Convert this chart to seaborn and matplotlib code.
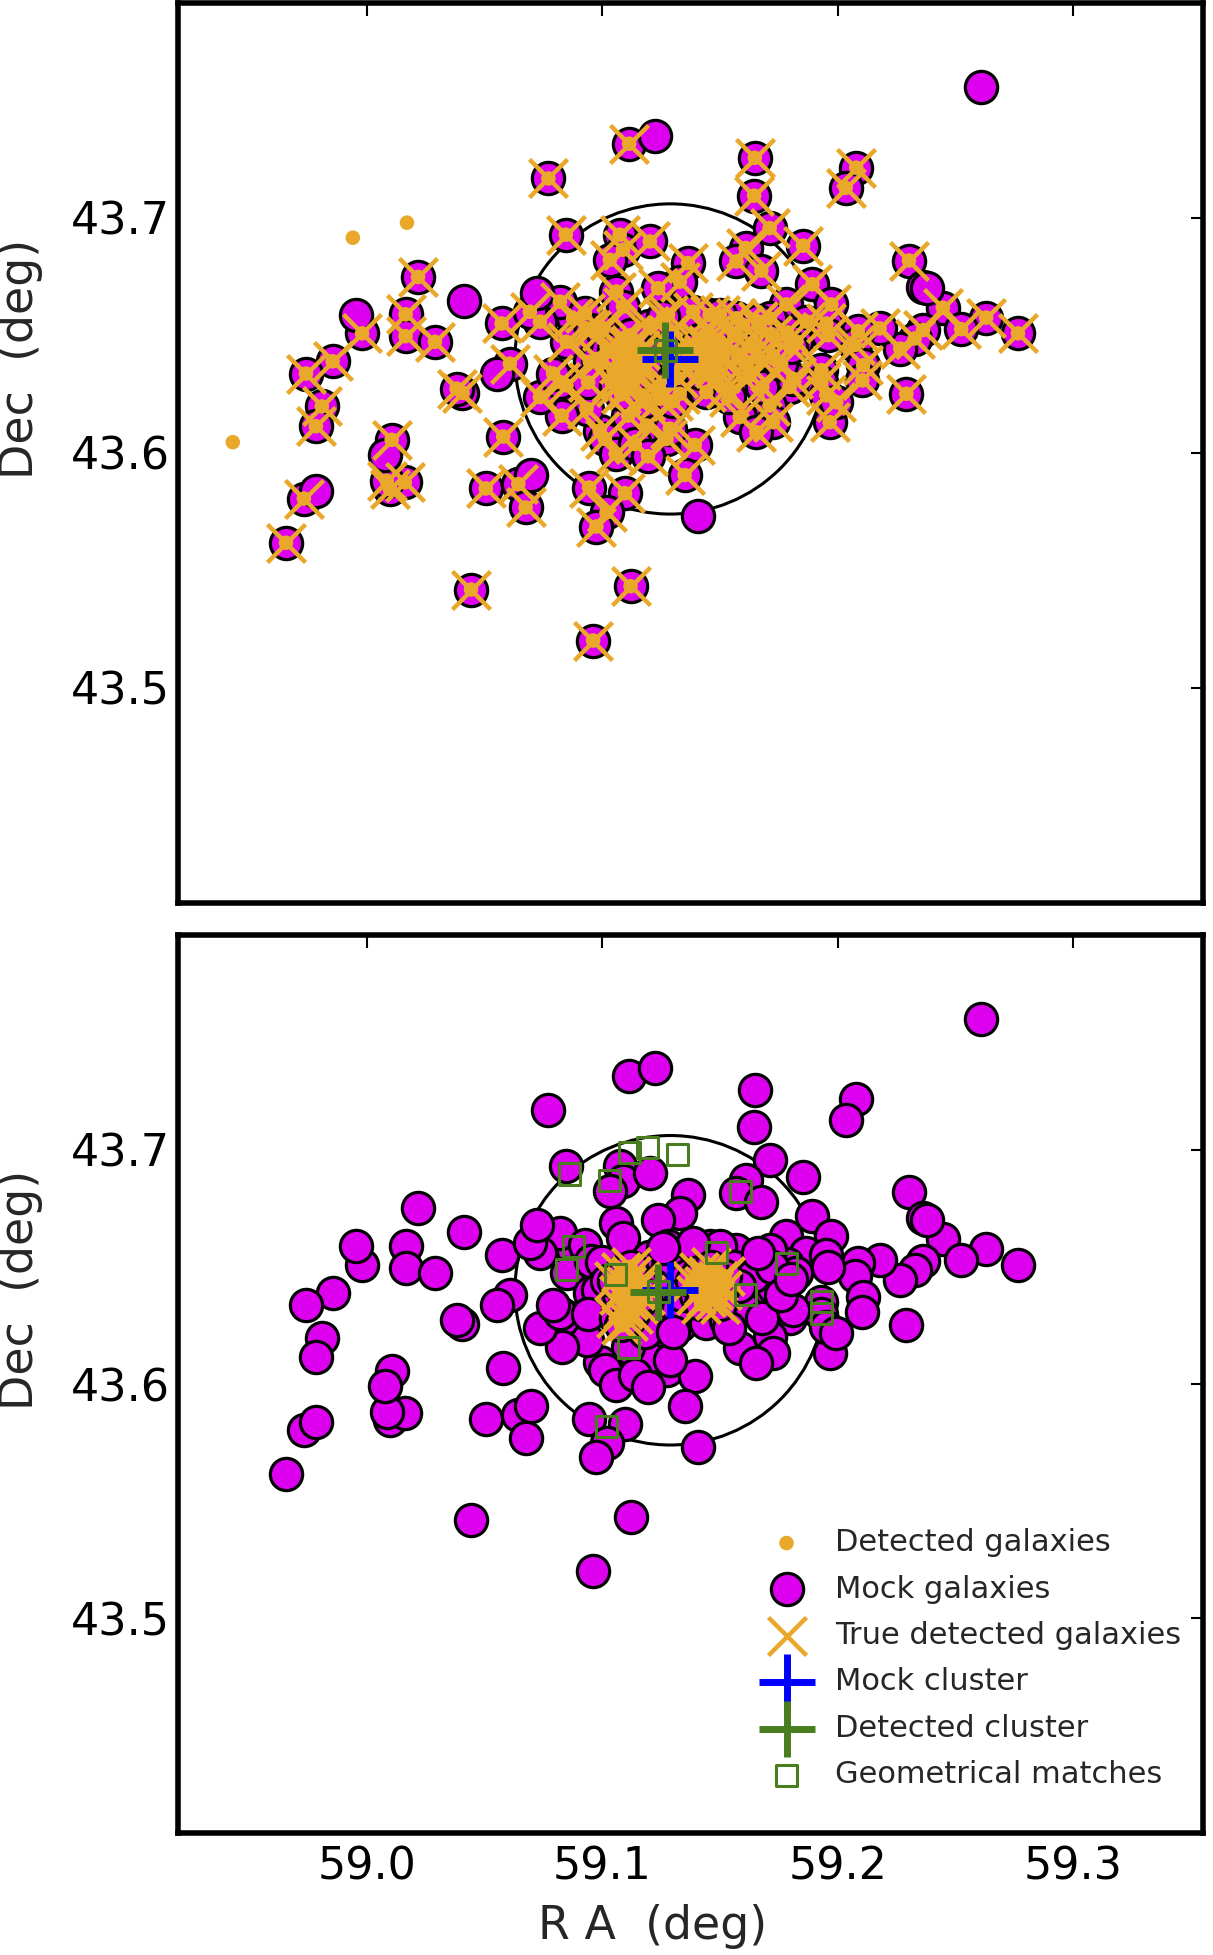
import matplotlib
matplotlib.use("Agg")
import matplotlib.pyplot as plt
from matplotlib.patches import Circle
import pandas as pd
import seaborn as sns

# DATA (deg)

# mock galaxies that have a detected counterpart in the top panel
mock_ra = [59.1114, 59.0771, 59.1648, 59.1645, 59.2079, 59.2034, 59.1711, 59.1853, 59.0845, 59.1074,
           59.1088, 59.1032, 59.1202, 59.1364, 59.1329, 59.1237, 59.1609, 59.1570, 59.1676, 59.2303,
           59.2447, 59.2631, 59.2766, 59.2525, 59.2363, 59.2327, 59.2266, 59.2178, 59.2086, 59.2072,
           59.2108, 59.2105, 59.2292, 59.1893, 59.1973, 59.1782, 59.1867, 59.1952, 59.1959, 59.1786,
           59.1825, 59.1711, 59.1598, 59.1662, 59.1612, 59.1570, 59.1456, 59.1279, 59.1931, 59.1931,
           59.1966, 59.1952, 59.1994, 59.1796, 59.1711, 59.1584, 59.1725, 59.1655, 59.1273, 59.1393,
           59.1350, 59.1329, 59.1442, 59.1527, 59.1626, 59.1725, 59.1810, 59.1669, 59.1499, 59.1386,
           59.1060, 59.1244, 59.1173, 59.1188, 59.1287, 59.1110, 59.0989, 59.0876, 59.0933, 59.0848,
           59.0947, 59.0848, 59.0933, 59.0827, 59.0735, 59.0820, 59.0406, 59.0381, 59.0579, 59.1011,
           59.1057, 59.1138, 59.1194, 59.0944, 59.1096, 59.1018, 59.0975, 59.0505, 59.0643, 59.0674,
           59.0442, 59.1120, 59.0961, 58.9808, 58.9783, 59.0105, 59.0098, 59.0161, 59.0084, 58.9732,
           58.9656, 59.0217, 58.9979, 59.0164, 59.0164, 59.0289, 58.9854, 58.9741, 59.0572, 59.0820,
           59.0735, 59.0692, 59.0926, 59.0954, 59.1088, 59.0607, 59.0791]
mock_dec = [43.7316, 43.7168, 43.7256, 43.7095, 43.7214, 43.7128, 43.6957, 43.6882, 43.6929, 43.6929,
            43.6865, 43.6822, 43.6900, 43.6808, 43.6729, 43.6701, 43.6872, 43.6815, 43.6776, 43.6819,
            43.6618, 43.6576, 43.6509, 43.6527, 43.6523, 43.6487, 43.6444, 43.6530, 43.6518, 43.6459,
            43.6373, 43.6309, 43.6252, 43.6718, 43.6632, 43.6632, 43.6559, 43.6551, 43.6501, 43.6513,
            43.6473, 43.6573, 43.6544, 43.6409, 43.6388, 43.6573, 43.6587, 43.6587, 43.6352, 43.6300,
            43.6131, 43.6245, 43.6217, 43.6281, 43.6202, 43.6153, 43.6131, 43.6088, 43.6060, 43.6034,
            43.5906, 43.6252, 43.6259, 43.6274, 43.6330, 43.6416, 43.6316, 43.6530, 43.6587, 43.6601,
            43.6687, 43.6231, 43.6245, 43.6117, 43.6103, 43.6159, 43.6095, 43.6573, 43.6530, 43.6473,
            43.6388, 43.6288, 43.6188, 43.6159, 43.6238, 43.6302, 43.6256, 43.6274, 43.6070, 43.6060,
            43.5996, 43.6038, 43.5986, 43.5853, 43.5829, 43.5747, 43.5687, 43.5849, 43.5868, 43.5768,
            43.5419, 43.5433, 43.5202, 43.6198, 43.6114, 43.6056, 43.5846, 43.5875, 43.5882, 43.5806,
            43.5618, 43.6749, 43.6509, 43.6590, 43.6497, 43.6473, 43.6390, 43.6338, 43.6551, 43.6644,
            43.6559, 43.6601, 43.6594, 43.6523, 43.6623, 43.6380, 43.6338]

# crowded mock galaxies round the core, detected in the top panel
inner_ra = [59.100, 59.104, 59.120, 59.124, 59.128, 59.132, 59.136, 59.156, 59.160, 59.164,
            59.168, 59.172, 59.098, 59.118, 59.130, 59.154, 59.158, 59.176, 59.122, 59.134,
            59.094, 59.102, 59.126, 59.166, 59.180]
inner_dec = [43.652, 43.630, 43.654, 43.628, 43.650, 43.632, 43.646, 43.650, 43.632, 43.646,
             43.628, 43.650, 43.640, 43.622, 43.622, 43.624, 43.642, 43.638, 43.642, 43.638,
             43.630, 43.644, 43.658, 43.656, 43.645]

# mock galaxies missed by the detection in the top panel
missed_ra = [59.2608, 59.1223, 59.0412, 59.1407, 58.9952, 59.2363, 59.2380, 59.0699, 59.0076, 58.9783,
             59.0551, 59.0721]
missed_dec = [43.7558, 43.7349, 43.6647, 43.5732, 43.6587, 43.6708, 43.6700, 43.5906, 43.5991, 43.5839,
              43.6338, 43.6679]

# cluster core (two lobes), detected in both panels
core_ra = [59.108, 59.112, 59.110, 59.114, 59.107, 59.111, 59.115, 59.109, 59.113, 59.106,
           59.111, 59.116, 59.105, 59.118, 59.112, 59.108,
           59.141, 59.145, 59.149, 59.143, 59.147, 59.151, 59.140, 59.144, 59.148, 59.152,
           59.138, 59.146, 59.150, 59.142]
core_dec = [43.648, 43.646, 43.642, 43.640, 43.638, 43.636, 43.634, 43.632, 43.630, 43.628,
            43.627, 43.644, 43.644, 43.638, 43.650, 43.625,
            43.648, 43.646, 43.644, 43.642, 43.640, 43.640, 43.638, 43.637, 43.636, 43.646,
            43.644, 43.650, 43.634, 43.634]

# detected galaxies without a mock counterpart (top panel)
extra_ra = [58.9940, 59.0170, 58.9430]
extra_dec = [43.6916, 43.6980, 43.6046]

# geometrical matches (bottom panel)
geo_ra = [59.0861, 59.1029, 59.1117, 59.1193, 59.1318, 59.1587, 59.0877, 59.0848, 59.1058, 59.1485,
          59.1781, 59.1610, 59.1932, 59.1932, 59.1111, 59.1019]
geo_dec = [43.6896, 43.6868, 43.6989, 43.7008, 43.6980, 43.6820, 43.6586, 43.6487, 43.6468, 43.6563,
           43.6515, 43.6383, 43.6352, 43.6299, 43.6155, 43.5817]

mock_cluster = [59.1289, 43.6400]
det_cluster_top = [59.1268, 43.6437]
det_cluster_bot = [59.1237, 43.6394]
cluster_radius = 0.066

# COLOURS
MAGENTA = "#dd00ee"
ORANGE = "#eaa82a"
GREEN = "#4a7d1e"
BLUE = "#0000ff"

sns.set_style("white")
plt.rcParams.update({
    "font.family": ["DejaVu Sans"],
    "xtick.direction": "in",
    "ytick.direction": "in",
    "xtick.top": True,
    "ytick.right": True,
    "xtick.major.size": 9,
    "ytick.major.size": 9,
    "xtick.major.width": 1.5,
    "ytick.major.width": 1.5,
    "xtick.major.pad": 9,
    "ytick.major.pad": 6,
    "xtick.color": "black",
    "ytick.color": "black",
    "axes.edgecolor": "black",
    "axes.linewidth": 4,
})

mock = pd.DataFrame({"ra": mock_ra + inner_ra + missed_ra + core_ra,
                     "dec": mock_dec + inner_dec + missed_dec + core_dec})
true_top = pd.DataFrame({"ra": mock_ra + inner_ra + core_ra,
                         "dec": mock_dec + inner_dec + core_dec})
det_top = pd.DataFrame({"ra": mock_ra + inner_ra + core_ra + extra_ra,
                        "dec": mock_dec + inner_dec + core_dec + extra_dec})
true_bot = pd.DataFrame({"ra": core_ra, "dec": core_dec})


def draw_panel(ax, det, true, geo, det_cluster):
    ax.add_patch(Circle(mock_cluster, cluster_radius, fill=False, ec="black", lw=2.2, zorder=1))
    sns.scatterplot(data=mock, x="ra", y="dec", ax=ax, marker="o", s=540, color=MAGENTA,
                    edgecolor="black", linewidth=2.3, zorder=2, label="Mock galaxies")
    sns.scatterplot(data=det, x="ra", y="dec", ax=ax, marker="o", s=110, color=ORANGE,
                    edgecolor="none", linewidth=0, zorder=3, label="Detected galaxies")
    sns.scatterplot(data=true, x="ra", y="dec", ax=ax, marker="x", s=750, color=ORANGE,
                    linewidth=3.2, zorder=4, label="True detected galaxies")
    sns.scatterplot(x=[mock_cluster[0]], y=[mock_cluster[1]], ax=ax, marker="+", s=1650,
                    color=BLUE, linewidth=5, zorder=5, label="Mock cluster")
    sns.scatterplot(x=[det_cluster[0]], y=[det_cluster[1]], ax=ax, marker="+", s=1650,
                    color=GREEN, linewidth=5, zorder=6, label="Detected cluster")
    sns.scatterplot(x=geo[0], y=geo[1], ax=ax, marker="s", s=230, color=GREEN,
                    facecolor="none", edgecolor=GREEN, linewidth=2.2, zorder=7,
                    label="Geometrical matches")
    ax.set_xlim(58.9197, 59.3552)
    ax.set_ylim(43.4085, 43.7915)
    ax.set_xticks([59.0, 59.1, 59.2, 59.3])
    ax.set_yticks([43.5, 43.6, 43.7])
    ax.set_xticklabels(["59.0", "59.1", "59.2", "59.3"])
    ax.set_yticklabels(["43.5", "43.6", "43.7"])
    ax.tick_params(labelsize=32)
    ax.set_ylabel("Dec  (deg)", fontsize=33)
    ax.yaxis.set_label_coords(-0.132, 0.605)
    ax.set_xlabel("")
    for sp in ax.spines.values():
        sp.set_visible(True)
        sp.set_linewidth(4)


fig = plt.figure(figsize=(12.13, 19.55), dpi=100)
ax_top = fig.add_axes([0.1467, 0.5381, 0.8450, 0.4604])
ax_bot = fig.add_axes([0.1467, 0.0624, 0.8450, 0.4593])

draw_panel(ax_top, det_top, true_top,
           ([det_cluster_top[0]], [det_cluster_top[1]]), det_cluster_top)
draw_panel(ax_bot, true_bot, true_bot,
           (geo_ra + [det_cluster_bot[0]], geo_dec + [det_cluster_bot[1]]), det_cluster_bot)

ax_top.tick_params(labelbottom=False)
ax_top.get_legend().remove()
ax_bot.set_xlabel("R A  (deg)", fontsize=33)
ax_bot.xaxis.set_label_coords(0.463, -0.079)

order = ["Detected galaxies", "Mock galaxies", "True detected galaxies",
         "Mock cluster", "Detected cluster", "Geometrical matches"]
handles, labels = ax_bot.get_legend_handles_labels()
lookup = dict(zip(labels, handles))
ax_bot.legend([lookup[k] for k in order], order, loc="lower right",
              bbox_to_anchor=(1.0, 0.025), frameon=False,
              fontsize=22, labelspacing=0.57, handletextpad=0.6, borderaxespad=0.3,
              scatterpoints=1)

fig.savefig("out.png", dpi=100)
